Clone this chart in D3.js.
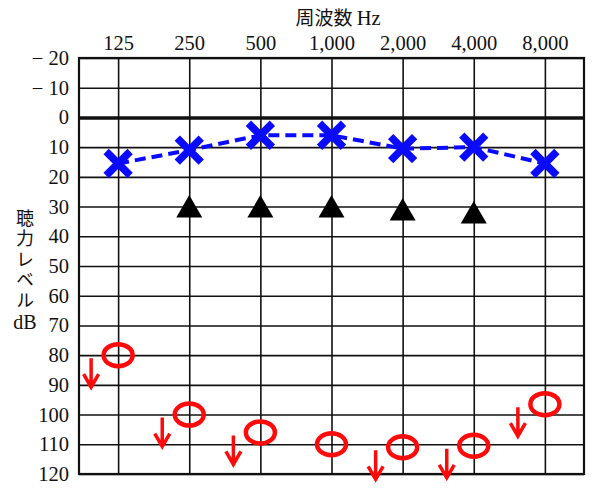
<!DOCTYPE html>
<html>
<head>
<meta charset="utf-8">
<script src="https://cdn.jsdelivr.net/npm/d3@7"></script>
<style>
  body { margin: 0; background: #fff; }
  svg { display: block; }
</style>
</head>
<body>
<div id="viz"></div>
<script>
const width = 600;
const height = 491;
const margin = {top: 58, right: 16, bottom: 17, left: 79};

// Data
const freqs = ['125', '250', '500', '1000', '2000', '4000', '8000'];
const freqLabels = ['125', '250', '500', '1,000', '2,000', '4,000', '8,000'];
const levels = [-20, -10, 0, 10, 20, 30, 40, 50, 60, 70, 80, 90, 100, 110, 120];
const levelLabels = ['− 20', '− 10', '0', '10', '20', '30', '40', '50', '60', '70', '80', '90', '100', '110', '120'];

// blue X (air conduction)
const airX = [15.5, 11, 6, 6, 10.5, 10, 15.5];
// black triangles (bone conduction), no 125 / 8000
const boneFreqs = ['250', '500', '1000', '2000', '4000'];
const boneVals = [30, 30, 30, 31, 32];
// red circles with scale-out arrows
const airO = [80, 100, 106, 110, 111, 110.5, 96.5];
const scaleOut = [true, true, true, false, true, true, true];

const blue = '#0a0aff';
const red = '#ff0a0a';
const serif = '"Liberation Serif", "DejaVu Serif", serif';
const jp = '"Noto Sans CJK JP", sans-serif';

const svg = d3.select('#viz')
  .append('svg')
  .attr('width', width)
  .attr('height', height);

const x = d3.scalePoint()
  .domain(freqs)
  .range([margin.left, width - margin.right])
  .padding(0.55);

const y = d3.scaleLinear()
  .domain([-20, 120])
  .range([margin.top, height - margin.bottom]);

const plotW = width - margin.right - margin.left;
const plotH = height - margin.bottom - margin.top;

// Y axis + horizontal grid
const yAxis = svg.append('g')
  .attr('transform', `translate(${margin.left},0)`)
  .call(d3.axisLeft(y)
    .tickValues(levels)
    .tickFormat((d, i) => levelLabels[i])
    .tickSize(-plotW)
    .tickPadding(10));
yAxis.select('.domain').remove();
yAxis.selectAll('line')
  .attr('stroke', '#111')
  .attr('stroke-width', d => d === 0 ? 3.5 : 1.6);
yAxis.selectAll('text')
  .attr('font-family', serif)
  .attr('font-size', 20.5)
  .attr('fill', '#111');

// X axis + vertical grid
const xAxis = svg.append('g')
  .attr('transform', `translate(0,${margin.top})`)
  .call(d3.axisTop(x)
    .tickFormat((d, i) => freqLabels[i])
    .tickSize(-plotH)
    .tickPadding(8));
xAxis.select('.domain').remove();
xAxis.selectAll('line')
  .attr('stroke', '#111')
  .attr('stroke-width', 1.6);
xAxis.selectAll('text')
  .attr('font-family', serif)
  .attr('font-size', 20.5)
  .attr('fill', '#111');

// frame
svg.append('rect')
  .attr('x', margin.left)
  .attr('y', margin.top)
  .attr('width', plotW)
  .attr('height', plotH)
  .attr('fill', 'none')
  .attr('stroke', '#111')
  .attr('stroke-width', 2.2);

// title
svg.append('text')
  .attr('x', 338)
  .attr('y', 25)
  .attr('text-anchor', 'middle')
  .attr('fill', '#111')
  .call(t => {
    t.append('tspan').attr('font-family', jp).attr('font-size', 19).text('周波数 ');
    t.append('tspan').attr('font-family', serif).attr('font-size', 20.5).text('Hz');
  });

// vertical y label
svg.append('text')
  .attr('x', 25)
  .attr('y', 209)
  .style('writing-mode', 'vertical-rl')
  .attr('font-family', jp)
  .attr('font-size', 18)
  .attr('letter-spacing', 2.5)
  .attr('fill', '#111')
  .text('聴力レベル');

svg.append('text')
  .attr('x', 25)
  .attr('y', 329)
  .attr('text-anchor', 'middle')
  .attr('font-family', serif)
  .attr('font-size', 20)
  .attr('fill', '#111')
  .text('dB');

// blue dashed line
const line = d3.line()
  .x((d, i) => x(freqs[i]))
  .y(d => y(d));

svg.append('path')
  .attr('d', line(airX))
  .attr('fill', 'none')
  .attr('stroke', blue)
  .attr('stroke-width', 4)
  .attr('stroke-dasharray', '11,6');

// blue X markers
const s = 12;
svg.append('g')
  .selectAll('path')
  .data(airX)
  .join('path')
  .attr('transform', (d, i) => `translate(${x(freqs[i])},${y(d)})`)
  .attr('d', `M${-s},${-s}L${s},${s}M${-s},${s}L${s},${-s}`)
  .attr('stroke', blue)
  .attr('stroke-width', 7.5)
  .attr('fill', 'none');

// black triangles
svg.append('g')
  .selectAll('path')
  .data(boneVals)
  .join('path')
  .attr('transform', (d, i) => `translate(${x(boneFreqs[i])},${y(d)})`)
  .attr('d', 'M0,-11.5L13,11L-13,11Z')
  .attr('fill', '#000');

// red circles
svg.append('g')
  .selectAll('ellipse')
  .data(airO)
  .join('ellipse')
  .attr('cx', (d, i) => x(freqs[i]))
  .attr('cy', d => y(d))
  .attr('rx', 14.5)
  .attr('ry', 11)
  .attr('fill', 'none')
  .attr('stroke', red)
  .attr('stroke-width', 4.5);

// scale-out arrows
svg.append('g')
  .selectAll('path')
  .data(airO.map((v, i) => ({v, f: freqs[i], out: scaleOut[i]})).filter(d => d.out))
  .join('path')
  .attr('transform', d => `translate(${x(d.f) - 27},${y(d.v)})`)
  .attr('d', 'M0,3L0,32M-7.5,19L0,32L7.5,19')
  .attr('fill', 'none')
  .attr('stroke', red)
  .attr('stroke-width', 3.5);
</script>
</body>
</html>
